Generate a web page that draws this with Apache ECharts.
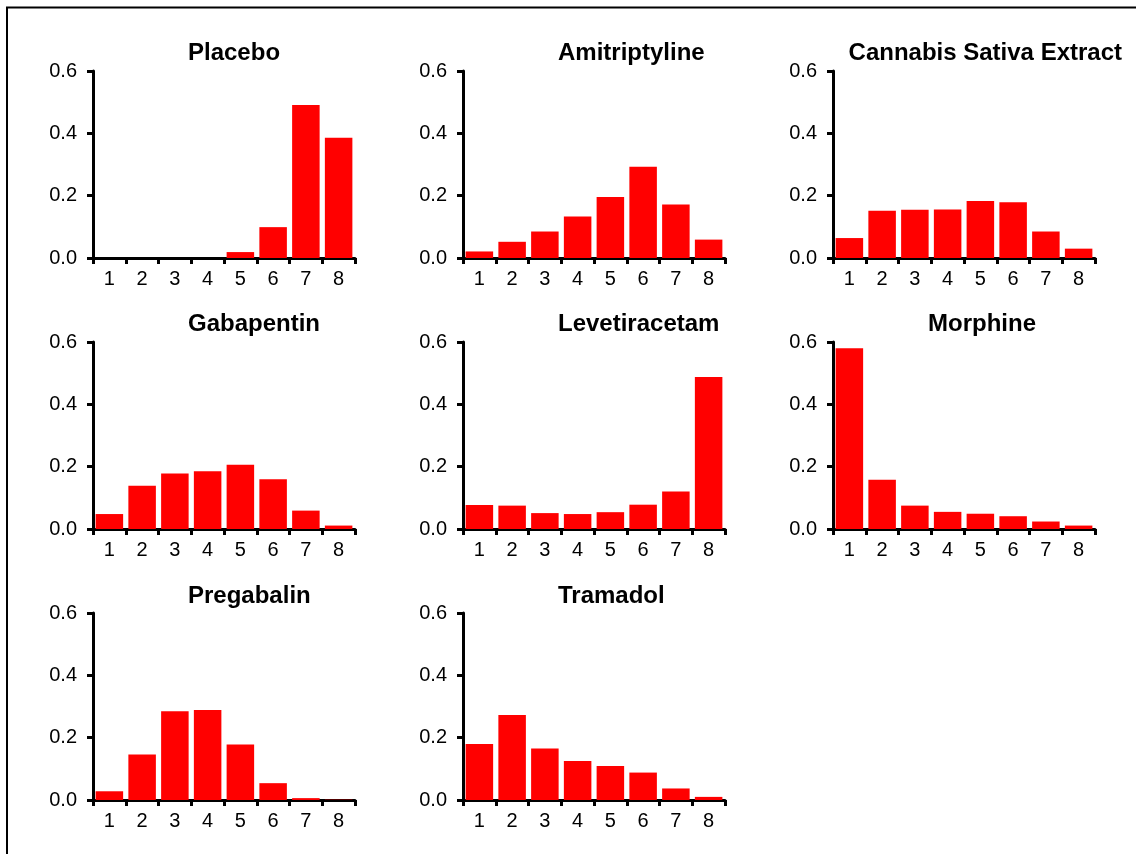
<!DOCTYPE html>
<html>
<head>
<meta charset="utf-8">
<title>Drug response distributions</title>
<script src="https://cdn.jsdelivr.net/npm/echarts@6/dist/echarts.min.js"></script>
<style>
  html, body { margin: 0; padding: 0; background: #fff; }
  #chart { width: 1136px; height: 854px; }
</style>
</head>
<body>
<div id="chart"></div>
<script>
// Category labels shared by every panel
const categories = ['1', '2', '3', '4', '5', '6', '7', '8'];
const yTicks = [0, 0.2, 0.4, 0.6];

// Proportions per category, one array per treatment
const placebo       = [0, 0, 0, 0, 0.019, 0.099, 0.491, 0.386];
const amitriptyline = [0.021, 0.052, 0.085, 0.133, 0.196, 0.293, 0.172, 0.059];
const cannabis      = [0.064, 0.152, 0.155, 0.156, 0.183, 0.179, 0.085, 0.030];
const gabapentin    = [0.048, 0.139, 0.178, 0.185, 0.206, 0.160, 0.059, 0.011];
const levetiracetam = [0.077, 0.075, 0.051, 0.048, 0.054, 0.078, 0.120, 0.488];
const morphine      = [0.580, 0.158, 0.075, 0.055, 0.049, 0.041, 0.024, 0.011];
const pregabalin    = [0.028, 0.146, 0.285, 0.289, 0.178, 0.054, 0.006, 0.001];
const tramadol      = [0.180, 0.273, 0.165, 0.125, 0.109, 0.088, 0.037, 0.010];

const panelTitles = ['Placebo', 'Amitriptyline', 'Cannabis Sativa Extract',
                     'Gabapentin', 'Levetiracetam', 'Morphine',
                     'Pregabalin', 'Tramadol'];
const panelData = [placebo, amitriptyline, cannabis, gabapentin,
                   levetiracetam, morphine, pregabalin, tramadol];

// Layout of the 3x3 panel grid (last cell empty)
const colLeft = [93, 463, 833];
const rowTop = [71, 342, 613];
const plotW = 262;
const plotH = 187;
const titleTop = [41, 312, 584];
const FONT = '"Liberation Sans", Arial, Helvetica, sans-serif';

const grids = [], xAxes = [], yAxes = [], series = [], titles = [];

panelData.forEach((vals, i) => {
  const r = Math.floor(i / 3), c = i % 3;
  grids.push({ left: colLeft[c], top: rowTop[r], width: plotW, height: plotH, containLabel: false });
  xAxes.push({
    type: 'category', gridIndex: i, data: categories, boundaryGap: true,
    axisLine: { lineStyle: { color: '#000', width: 3 } },
    axisTick: { show: true, length: 6, lineStyle: { color: '#000', width: 3 } },
    axisLabel: { color: '#000', fontSize: 20, fontFamily: FONT, margin: 11 },
    splitLine: { show: false }
  });
  yAxes.push({
    type: 'value', gridIndex: i, min: 0, max: yTicks[yTicks.length - 1], interval: 0.2,
    axisLine: { show: true, lineStyle: { color: '#000', width: 3 } },
    axisTick: { show: true, length: 6, lineStyle: { color: '#000', width: 3 } },
    axisLabel: { color: '#000', fontSize: 20, fontFamily: FONT, margin: 16,
                 formatter: v => v.toFixed(1) },
    splitLine: { show: false }
  });
  series.push({
    type: 'bar', xAxisIndex: i, yAxisIndex: i, data: vals,
    barCategoryGap: '16%',
    itemStyle: { color: '#ff0000' },
    silent: true
  });
  const t = { text: panelTitles[i], top: titleTop[r], padding: 0,
              textStyle: { fontSize: 24, fontWeight: 'bold', color: '#000', fontFamily: FONT } };
  if (i === 2) t.right = 14; else t.left = colLeft[c] + 95;
  titles.push(t);
});

const chart = echarts.init(document.getElementById('chart'), null, { renderer: 'canvas' });
chart.setOption({
  animation: false,
  backgroundColor: '#fff',
  title: titles,
  grid: grids,
  xAxis: xAxes,
  yAxis: yAxes,
  series: series,
  graphic: [{
    type: 'rect', silent: true,
    shape: { x: 7, y: 7.5, width: 1140, height: 860 },
    style: { fill: 'none', stroke: '#000', lineWidth: 2 }
  }]
});
</script>
</body>
</html>
